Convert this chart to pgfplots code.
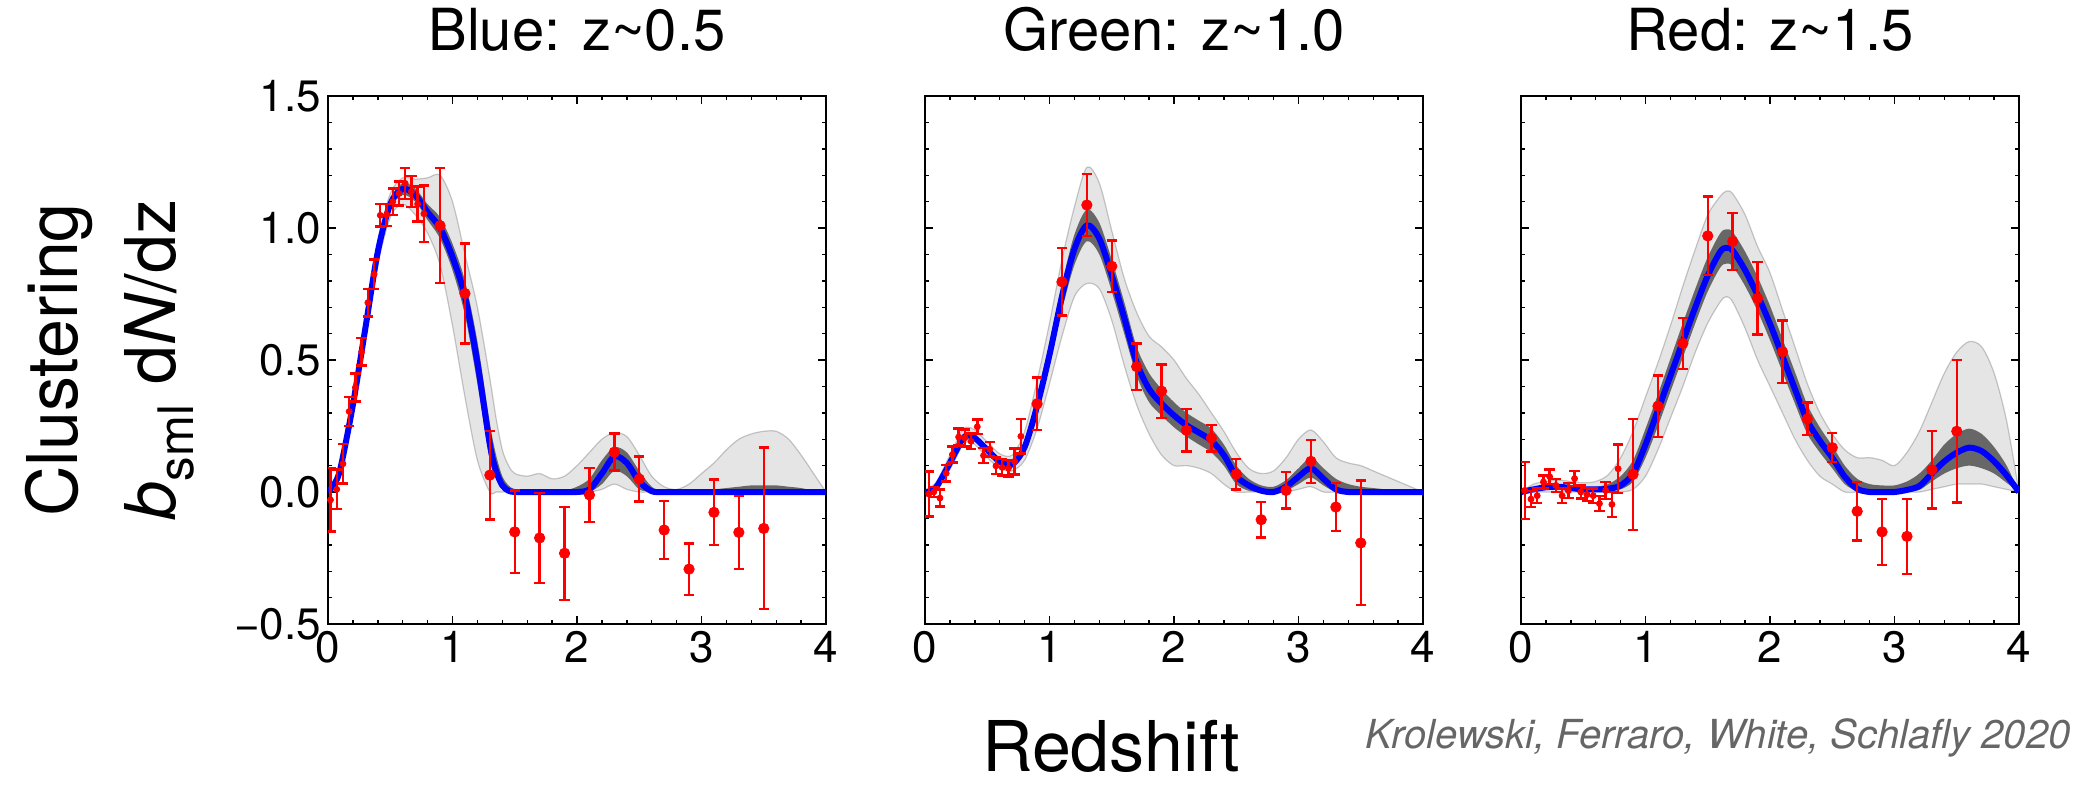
\documentclass[border=0pt]{standalone}
\usepackage{fontspec}
\setmainfont{TeX Gyre Heros}
\usepackage{pgfplots}
\pgfplotsset{compat=1.18}
\usepackage{pgfplotstable}
\usepgfplotslibrary{fillbetween}

% ---------- model curves: best fit (b), outer spread (lo/hi), inner core (ilo/ihi)
\pgfplotstableread{
x    b      lo     hi     ilo    ihi
0.00 0.000  0.000  0.000  0.000  0.000
0.05 0.030  0.020  0.045  0.025  0.035
0.10 0.090  0.070  0.110  0.080  0.100
0.20 0.330  0.300  0.360  0.315  0.345
0.30 0.620  0.580  0.660  0.600  0.640
0.40 0.910  0.860  0.950  0.890  0.930
0.50 1.090  1.040  1.130  1.070  1.110
0.60 1.148  1.090  1.190  1.125  1.170
0.70 1.125  1.050  1.185  1.100  1.150
0.80 1.060  0.980  1.190  1.030  1.090
0.90 1.000  0.860  1.200  0.960  1.040
1.00 0.890  0.630  1.100  0.840  0.940
1.10 0.740  0.360  0.900  0.670  0.800
1.20 0.490  0.120  0.700  0.410  0.570
1.30 0.180  0.000  0.430  0.120  0.260
1.35 0.080  0.000  0.280  0.050  0.140
1.40 0.025  0.000  0.160  0.010  0.060
1.45 0.005  0.000  0.100  0.000  0.025
1.50 0.000  0.000  0.070  0.000  0.010
1.60 0.000  0.000  0.060  0.000  0.000
1.70 0.000  0.000  0.070  0.000  0.000
1.80 0.000  0.000  0.050  0.000  0.000
1.90 0.000  0.000  0.060  0.000  0.005
2.00 0.000  0.000  0.100  0.000  0.020
2.10 0.010  0.000  0.150  0.000  0.050
2.20 0.070  0.010  0.200  0.030  0.120
2.30 0.135  0.030  0.225  0.080  0.170
2.40 0.110  0.010  0.210  0.060  0.150
2.50 0.040  0.000  0.140  0.010  0.080
2.60 0.003  0.000  0.060  0.000  0.020
2.70 0.000  0.000  0.020  0.000  0.000
2.80 0.000  0.000  0.010  0.000  0.000
2.90 0.000  0.000  0.030  0.000  0.000
3.00 0.000  0.000  0.070  0.000  0.005
3.10 0.000  0.000  0.110  0.000  0.010
3.20 0.000  0.000  0.160  0.000  0.015
3.30 0.000  0.000  0.200  0.000  0.020
3.40 0.000  0.000  0.220  0.000  0.025
3.50 0.000  0.000  0.230  0.000  0.025
3.60 0.000  0.000  0.230  0.000  0.025
3.70 0.000  0.000  0.200  0.000  0.020
3.80 0.000  0.000  0.140  0.000  0.015
3.90 0.000  0.000  0.070  0.000  0.005
4.00 0.000  0.000  0.000  0.000  0.000
}\curvesBlue

\pgfplotstableread{
x    b      lo     hi     ilo    ihi
0.00 0.000  0.000  0.000  0.000  0.000
0.05 0.005  0.000  0.020  0.000  0.012
0.10 0.025  0.010  0.045  0.018  0.035
0.20 0.110  0.085  0.140  0.098  0.124
0.30 0.200  0.175  0.235  0.188  0.214
0.35 0.215  0.190  0.245  0.202  0.228
0.40 0.205  0.180  0.235  0.192  0.218
0.50 0.160  0.130  0.190  0.147  0.173
0.60 0.115  0.090  0.145  0.102  0.128
0.70 0.105  0.080  0.140  0.092  0.120
0.80 0.170  0.120  0.230  0.150  0.195
0.90 0.325  0.240  0.420  0.290  0.365
1.00 0.520  0.410  0.640  0.480  0.565
1.10 0.740  0.590  0.880  0.690  0.790
1.20 0.920  0.740  1.080  0.860  0.975
1.30 1.010  0.790  1.230  0.950  1.070
1.40 0.960  0.770  1.170  0.900  1.020
1.50 0.820  0.650  0.990  0.760  0.880
1.60 0.660  0.480  0.810  0.600  0.720
1.70 0.490  0.330  0.680  0.440  0.550
1.80 0.390  0.220  0.590  0.340  0.450
1.90 0.335  0.140  0.550  0.290  0.390
2.00 0.290  0.100  0.500  0.245  0.340
2.10 0.253  0.100  0.430  0.210  0.300
2.20 0.225  0.090  0.370  0.180  0.270
2.30 0.195  0.070  0.300  0.150  0.240
2.40 0.140  0.030  0.230  0.100  0.180
2.50 0.060  0.000  0.150  0.030  0.100
2.60 0.025  0.000  0.090  0.005  0.050
2.70 0.005  0.000  0.070  0.000  0.025
2.80 0.000  0.000  0.080  0.000  0.020
2.90 0.020  0.000  0.130  0.005  0.045
3.00 0.058  0.010  0.200  0.030  0.090
3.10 0.090  0.020  0.235  0.055  0.130
3.20 0.050  0.000  0.190  0.025  0.090
3.30 0.010  0.000  0.130  0.000  0.050
3.40 0.000  0.000  0.110  0.000  0.030
3.50 0.000  0.000  0.100  0.000  0.020
3.60 0.000  0.000  0.080  0.000  0.015
3.70 0.000  0.000  0.060  0.000  0.010
3.80 0.000  0.000  0.040  0.000  0.005
3.90 0.000  0.000  0.020  0.000  0.000
4.00 0.000  0.000  0.000  0.000  0.000
}\curvesGreen

\pgfplotstableread{
x    b      lo     hi     ilo    ihi
0.00 0.000  0.000  0.000  0.000  0.000
0.10 0.010  0.000  0.030  0.003  0.018
0.20 0.018  0.000  0.040  0.008  0.028
0.30 0.020  0.000  0.045  0.010  0.030
0.40 0.015  0.000  0.040  0.006  0.025
0.50 0.010  0.000  0.035  0.003  0.020
0.60 0.010  0.000  0.040  0.003  0.020
0.70 0.012  0.000  0.065  0.004  0.030
0.80 0.025  0.000  0.130  0.010  0.060
0.90 0.070  0.010  0.230  0.040  0.120
1.00 0.180  0.060  0.360  0.130  0.240
1.10 0.310  0.160  0.490  0.250  0.370
1.20 0.440  0.280  0.630  0.380  0.505
1.30 0.570  0.400  0.780  0.510  0.640
1.40 0.700  0.530  0.920  0.640  0.770
1.50 0.820  0.640  1.050  0.760  0.890
1.60 0.910  0.720  1.120  0.850  0.980
1.65 0.925  0.740  1.140  0.865  0.995
1.70 0.915  0.720  1.130  0.855  0.985
1.80 0.840  0.620  1.050  0.780  0.910
1.90 0.745  0.500  0.930  0.685  0.815
2.00 0.637  0.400  0.830  0.575  0.705
2.10 0.514  0.300  0.690  0.455  0.580
2.20 0.390  0.200  0.550  0.335  0.455
2.30 0.270  0.120  0.410  0.220  0.330
2.40 0.194  0.060  0.300  0.150  0.245
2.50 0.130  0.030  0.220  0.090  0.175
2.60 0.058  0.000  0.160  0.030  0.100
2.70 0.012  0.000  0.130  0.003  0.050
2.80 0.000  0.000  0.130  0.000  0.030
2.90 0.000  0.000  0.120  0.000  0.025
3.00 0.000  0.000  0.100  0.000  0.025
3.10 0.008  0.000  0.150  0.002  0.040
3.20 0.023  0.000  0.230  0.008  0.070
3.30 0.070  0.010  0.340  0.040  0.120
3.40 0.116  0.020  0.450  0.070  0.180
3.50 0.149  0.030  0.530  0.090  0.220
3.60 0.168  0.030  0.570  0.100  0.240
3.70 0.155  0.030  0.550  0.090  0.220
3.80 0.116  0.020  0.450  0.070  0.170
3.90 0.063  0.010  0.270  0.035  0.100
4.00 0.000  0.000  0.000  0.000  0.000
}\curvesRed

% ---------- clustering measurements: fine bins (small) and wide bins (large)
\pgfplotstableread{
x    y       e
0.02 -0.030  0.120
0.07  0.010  0.075
0.12  0.107  0.075
0.17  0.305  0.056
0.22  0.396  0.053
0.27  0.531  0.052
0.32  0.717  0.052
0.37  0.825  0.055
0.42  1.048  0.043
0.47  1.050  0.042
0.52  1.100  0.050
0.57  1.131  0.045
0.62  1.169  0.059
0.67  1.138  0.058
0.72  1.091  0.066
0.77  1.054  0.107
}\fineBlue
\pgfplotstableread{
x    y       e
0.9   1.009  0.218
1.1   0.752  0.189
1.3   0.064  0.168
1.5  -0.151  0.156
1.7  -0.174  0.171
1.9  -0.232  0.176
2.1  -0.011  0.102
2.3   0.151  0.070
2.5   0.049  0.085
2.7  -0.144  0.109
2.9  -0.292  0.097
3.1  -0.077  0.124
3.3  -0.153  0.139
3.5  -0.138  0.306
}\wideBlue

\pgfplotstableread{
x    y       e
0.03 -0.008  0.085
0.07  0.000  0.020
0.12 -0.023  0.032
0.17  0.071  0.031
0.22  0.142  0.030
0.27  0.208  0.032
0.32  0.205  0.032
0.37  0.192  0.030
0.42  0.247  0.028
0.47  0.138  0.028
0.52  0.162  0.028
0.57  0.099  0.031
0.62  0.093  0.031
0.67  0.090  0.031
0.72  0.116  0.049
0.77  0.211  0.065
}\fineGreen
\pgfplotstableread{
x    y       e
0.9   0.334  0.099
1.1   0.796  0.128
1.3   1.087  0.117
1.5   0.855  0.098
1.7   0.475  0.088
1.9   0.382  0.101
2.1   0.234  0.080
2.3   0.204  0.050
2.5   0.068  0.058
2.7  -0.105  0.068
2.9   0.006  0.069
3.1   0.116  0.081
3.3  -0.057  0.091
3.5  -0.193  0.236
}\wideGreen

\pgfplotstableread{
x    y       e
0.03  0.006  0.108
0.08 -0.027  0.030
0.13 -0.014  0.028
0.18  0.038  0.025
0.23  0.058  0.028
0.28  0.025  0.025
0.33 -0.014  0.028
0.38  0.005  0.028
0.43  0.051  0.029
0.48  0.000  0.025
0.53 -0.010  0.025
0.58 -0.014  0.028
0.63 -0.044  0.029
0.68  0.005  0.032
0.73 -0.047  0.048
0.78  0.088  0.092
}\fineRed
\pgfplotstableread{
x    y       e
0.9   0.067  0.210
1.1   0.325  0.116
1.3   0.563  0.097
1.5   0.970  0.149
1.7   0.949  0.107
1.9   0.734  0.138
2.1   0.531  0.119
2.3   0.277  0.062
2.5   0.168  0.055
2.7  -0.073  0.111
2.9  -0.151  0.125
3.1  -0.168  0.142
3.3   0.084  0.147
3.5   0.230  0.270
}\wideRed

\pgfplotsset{
  panel/.style={
    anchor=south west, scale only axis,
    width=249pt, height=264pt,
    xmin=0, xmax=4, ymin=-0.5, ymax=1.5,
    xtick={0,1,2,3,4}, xticklabels={0,1,2,3,4},
    ytick={-0.5,0,0.5,1,1.5},
    minor x tick num=4, minor y tick num=4,
    tick align=inside, xtick pos=both, ytick pos=both,
    major tick length=4pt, minor tick length=2pt,
    every tick/.style={black, line width=0.7pt},
    axis line style={line width=1pt},
    tick label style={font=\fontsize{22}{22}\selectfont},
    title style={font=\fontsize{29}{29}\selectfont, at={(0.5,1)}, anchor=base, yshift=17pt},
  },
  errbars/.style={
    only marks, mark=*, red, mark options={red, draw=red, fill=red},
    error bars/.cd, y dir=both, y explicit, error mark=-,
    error bar style={line width=1.2pt, red},
    error mark options={rotate=90, red, mark size=2.6pt, line width=1.2pt},
    /pgfplots/.cd,
  },
}

% spread of model curves, best fit and measurements for one sample
\newcommand{\drawsample}[3]{%
  \addplot[draw=none, smooth, name path=hi] table[x=x, y=hi]{#1};
  \addplot[draw=none, smooth, name path=lo] table[x=x, y=lo]{#1};
  \addplot[draw=none, smooth, name path=ihi] table[x=x, y=ihi]{#1};
  \addplot[draw=none, smooth, name path=ilo] table[x=x, y=ilo]{#1};
  \addplot[fill=black, fill opacity=0.10, draw=none] fill between[of=hi and lo];
  \addplot[fill=black, fill opacity=0.55, draw=none] fill between[of=ihi and ilo];
  \addplot[black, opacity=0.2, line width=0.6pt, smooth] table[x=x, y=hi]{#1};
  \addplot[black, opacity=0.2, line width=0.6pt, smooth] table[x=x, y=lo]{#1};
  \addplot[blue, line width=3pt, smooth] table[x=x, y=b]{#1};
  \addplot[mark size=1.5pt, errbars] table[x=x, y=y, y error=e]{#2};
  \addplot[mark size=2.6pt, errbars] table[x=x, y=y, y error=e]{#3};
}

\begin{document}
\begin{tikzpicture}

\begin{axis}[panel, at={(164pt,80pt)},
  title={Blue: z\textasciitilde0.5},
  yticklabels={−0.5,0.0,0.5,1.0,1.5}]
  \drawsample{\curvesBlue}{\fineBlue}{\wideBlue}
\end{axis}

\begin{axis}[panel, at={(462.5pt,80pt)},
  title={Green: z\textasciitilde1.0},
  yticklabels={}]
  \drawsample{\curvesGreen}{\fineGreen}{\wideGreen}
\end{axis}

\begin{axis}[panel, at={(760.5pt,80pt)},
  title={Red: z\textasciitilde1.5},
  yticklabels={}]
  \drawsample{\curvesRed}{\fineRed}{\wideRed}
\end{axis}

\node[rotate=90, anchor=base, inner sep=0pt, font=\fontsize{35}{35}\selectfont]
  at (39pt,212pt) {Clustering};
\node[rotate=90, anchor=base, inner sep=0pt, font=\fontsize{35}{35}\selectfont]
  at (87.5pt,212pt) {\textit{b}\textsubscript{sml} d\textit{N}/dz};
\node[anchor=base, inner sep=0pt, font=\fontsize{35}{35}\selectfont]
  at (555.5pt,6.5pt) {Redshift};
\node[anchor=base east, inner sep=0pt, text=black!60,
  font=\fontsize{20}{20}\selectfont\itshape]
  at (1035.5pt,18pt) {Krolewski, Ferraro, White, Schlafly 2020};
\path (0,0) rectangle (1045.5pt,392pt);
\end{tikzpicture}
\end{document}
